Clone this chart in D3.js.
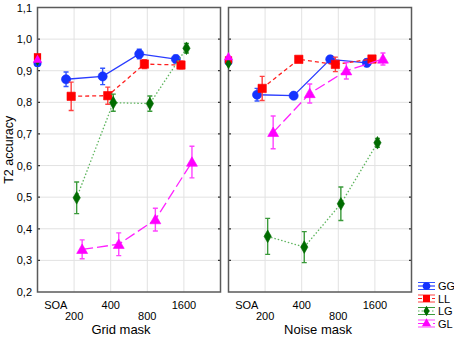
<!DOCTYPE html>
<html>
<head>
<meta charset="utf-8">
<script src="https://cdn.jsdelivr.net/npm/d3@7"></script>
<style>
  body { margin: 0; background: #fff; }
  svg { font-family: Arial, "Liberation Sans", sans-serif; display: block; }
</style>
</head>
<body>
<div id="graf"></div>
<script>
// datos
soaLabels = ['200', '400', '800', '1600']
series = ['GG', 'LL', 'LG', 'GL']
yTicks = [0.2, 0.3, 0.4, 0.5, 0.6, 0.7, 0.8, 0.9, 1.0, 1.1]

gridGG = [0.873, 0.882, 0.953, 0.937]
gridLL = [0.819, 0.821, 0.921, 0.918]
gridLG = [0.498, 0.799, 0.796, 0.971]
gridGL = [0.335, 0.351, 0.429, 0.611]
gridErrGG = [0.023, 0.026, 0.015, 0.012]
gridErrLL = [0.045, 0.027, 0.014, 0.012]
gridErrLG = [0.050, 0.027, 0.024, 0.015]
gridErrGL = [0.030, 0.036, 0.036, 0.050]
gridBase = [0.924, 0.944, 0.932, 0.934]

noiseGG = [0.824, 0.821, 0.936, 0.925]
noiseLL = [0.844, 0.936, 0.920, 0.937]
noiseLG = [0.376, 0.342, 0.479, 0.672]
noiseGL = [0.705, 0.828, 0.900, 0.937]
noiseErrGG = [0.020, 0.008, 0.010, 0.012]
noiseErrLL = [0.038, 0.008, 0.023, 0.008]
noiseErrLG = [0.057, 0.049, 0.053, 0.014]
noiseErrGL = [0.052, 0.030, 0.026, 0.019]
noiseBase = [0.928, 0.934, 0.922, 0.942]

// estilos por serie
estilo = {
  GG: {color: '#1533ff', line: '#2a3cff', err: '#3355ff', dash: null, sym: d3.symbolCircle, size: 66, off: -0.22},
  LL: {color: '#ff0000', line: '#ff2020', err: '#ff4040', dash: '4,3', sym: d3.symbolSquare, size: 70, off: -0.08},
  LG: {color: '#006b00', line: '#5fb55f', err: '#3a9a3a', dash: '1.5,2', sym: d3.symbolDiamond, size: 46, off: 0.07},
  GL: {color: '#ff00ff', line: '#ff22ff', err: '#ff44ff', dash: '11,4', sym: d3.symbolTriangle, size: 52, off: 0.22}
}

paneles = [
  {titulo: 'Grid mask', x0: 37.5, x1: 220.5, tx: 121,
   vals: [gridGG, gridLL, gridLG, gridGL], errs: [gridErrGG, gridErrLL, gridErrLG, gridErrGL], base: gridBase},
  {titulo: 'Noise mask', x0: 228.5, x1: 411.5, tx: 318,
   vals: [noiseGG, noiseLL, noiseLG, noiseGL], errs: [noiseErrGG, noiseErrLL, noiseErrLG, noiseErrGL], base: noiseBase}
]

svg = d3.select('#graf').append('svg')
        .attr('width', 454)
        .attr('height', 337)

y = d3.scaleLinear().domain([0.2, 1.1]).range([292, 7.5])

// eje y (etiquetas)
svg.append('g')
   .selectAll('text')
   .data(yTicks)
   .enter().append('text')
     .attr('x', 32)
     .attr('y', d => y(d) + 4)
     .attr('text-anchor', 'end')
     .style('font-size', '11px')
     .text(d => d3.format('.1f')(d).replace('.', ','))

svg.append('text')
   .attr('transform', `translate(13, ${(y(0.2) + y(1.1)) / 2}) rotate(-90)`)
   .attr('text-anchor', 'middle')
   .style('font-size', '12.5px')
   .text('T2 accuracy')

paneles.forEach(p => {
  x = d3.scaleLinear().domain([0, 5]).range([p.x0, p.x1])
  g = svg.append('g')

  // rejilla
  g.selectAll('.hg').data(yTicks.slice(1, -1)).enter().append('line')
   .attr('x1', p.x0).attr('x2', p.x1)
   .attr('y1', d => y(d)).attr('y2', d => y(d))
   .attr('stroke', '#e2e2e2').attr('stroke-width', 1)
  g.selectAll('.vg').data([1, 2, 3, 4]).enter().append('line')
   .attr('x1', d => x(d)).attr('x2', d => x(d))
   .attr('y1', y(1.1)).attr('y2', y(0.2))
   .attr('stroke', '#e2e2e2').attr('stroke-width', 1)

  // marcas en los bordes
  g.selectAll('.tk').data(yTicks.slice(1, -1)).enter().append('path')
   .attr('d', d => `M${p.x0},${y(d)}h2.5M${p.x1},${y(d)}h-2.5`)
   .attr('stroke', '#333').attr('stroke-width', 1.2)

  // marco
  g.append('rect')
   .attr('x', p.x0).attr('y', y(1.1))
   .attr('width', p.x1 - p.x0).attr('height', y(0.2) - y(1.1))
   .attr('fill', 'none').attr('stroke', '#5a5a5a').attr('stroke-width', 1.5)

  // etiquetas eje x
  g.append('text').attr('x', x(0.5)).attr('y', 308.5).attr('text-anchor', 'middle')
   .style('font-size', '11px').text('SOA')
  g.selectAll('.xl').data(soaLabels).enter().append('text')
   .attr('x', (d, i) => x(i + 1))
   .attr('y', (d, i) => i % 2 == 0 ? 320 : 308.5)
   .attr('text-anchor', 'middle')
   .style('font-size', '11px')
   .text(d => d)
  g.append('text').attr('x', p.tx).attr('y', 333.5).attr('text-anchor', 'middle')
   .style('font-size', '13px').text(p.titulo)

  // series
  series.forEach((s, k) => {
    st = estilo[s]
    datos = p.vals[k].map((v, i) => ({x: x(i + 1 + st.off), v: v, e: p.errs[k][i]}))

    linea = d3.line().x(d => d.x).y(d => y(d.v))
    g.append('path').datum(datos)
     .attr('d', linea)
     .attr('fill', 'none')
     .attr('stroke', st.line)
     .attr('stroke-width', 1.3)
     .attr('stroke-dasharray', st.dash)

    g.selectAll('.err' + s).data(datos).enter().append('path')
     .attr('d', d => `M${d.x},${y(d.v - d.e)}V${y(d.v + d.e)}M${d.x - 2.5},${y(d.v - d.e)}h5M${d.x - 2.5},${y(d.v + d.e)}h5`)
     .attr('stroke', st.err).attr('stroke-width', 1.4).attr('fill', 'none')

    g.selectAll('.m' + s).data(datos).enter().append('path')
     .attr('d', d3.symbol().type(st.sym).size(st.size))
     .attr('transform', d => `translate(${d.x},${y(d.v) + (s == 'GL' ? 1 : 0)})`)
     .attr('fill', st.color)
     .attr('stroke', st.color).attr('stroke-width', 0.6)
  })

  // valores base (SOA) sobre el borde
  series.forEach((s, k) => {
    st = estilo[s]
    g.append('path')
     .attr('d', d3.symbol().type(st.sym).size(st.size * 0.75))
     .attr('transform', `translate(${x(0)},${y(p.base[k])})`)
     .attr('fill', st.color)
  })
})

// leyenda
leg = svg.append('g')
series.forEach((s, k) => {
  st = estilo[s]
  ly = 286 + k * 12.5
  lx0 = 418, lx1 = 435
  leg.append('path')
     .attr('d', `M${lx0},${ly - 3.5}H${lx1}M${lx0},${ly + 3.5}H${lx1}`)
     .attr('stroke', st.err).attr('stroke-width', 1.2)
  leg.append('path')
     .attr('d', `M${lx0},${ly}H${lx1}`)
     .attr('stroke', st.line).attr('stroke-width', 1.2)
     .attr('stroke-dasharray', st.dash)
  leg.append('path')
     .attr('d', d3.symbol().type(st.sym).size(st.size * 0.7))
     .attr('transform', `translate(${(lx0 + lx1) / 2},${ly})`)
     .attr('fill', st.color)
  leg.append('text')
     .attr('x', 438).attr('y', ly + 4)
     .style('font-size', '11px')
     .text(s)
})
</script>
</body>
</html>
